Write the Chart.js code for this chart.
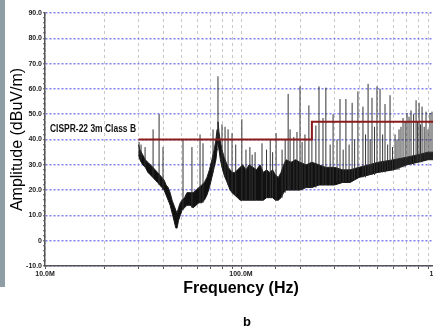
<!DOCTYPE html>
<html>
<head>
<meta charset="utf-8">
<script src="https://cdn.jsdelivr.net/npm/chart.js@4.4.0/dist/chart.umd.min.js"></script>
<style>
    html, body { margin: 0; padding: 0; background: #fff; }
    body { width: 433px; height: 329px; overflow: hidden; position: relative; font-family: "Liberation Sans", Arial, sans-serif; }
    #wrap { position: absolute; left: 0; top: 0; width: 450px; height: 329px; }
    #strip { position: absolute; left: 0; top: 0; width: 5px; height: 287px; background: #8f9ea5; z-index: 2; }
    #caption { position: absolute; left: 232px; top: 315px; width: 30px; text-align: center; font: bold 13px "Liberation Sans", Arial, sans-serif; line-height: 13px; color: #000; }
</style>
</head>
<body>
<div id="wrap"><canvas id="emiChart"></canvas></div>
<div id="strip"></div>
<div id="caption">b</div>
<script>
const FONT = '"Liberation Sans", Arial, sans-serif';

// axis ticks (MHz)
const xLabelValues = [10, 100, 1000];
const xLabelTexts = ['10.0M', '100.0M', '1.0G'];

// CISPR-22 class B limit, 3 m
const limitName = 'CISPR-22 3m Class B';
const limitFreq = [30, 230, 230, 1000];
const limitLevel = [40, 40, 47, 47];

// measured noise floor band (MHz, dBuV/m)
const bandFreq = [30, 30.5, 31.5, 32.5, 33.5, 34.5, 35.5, 36.5, 37.5, 38.5,
    39.5, 40.5, 41.5, 42.5, 43.5, 44.5, 45.5, 46.5, 47.2, 48,
    49, 50, 51.5, 53, 55, 57, 59, 61, 63, 65,
    67, 69, 71, 73, 74.5, 75.5, 76.3, 77.2, 78.5, 80,
    82, 84, 86, 88, 90, 93, 96, 99, 102, 106,
    110, 115, 120, 125, 130, 135, 140, 145, 150, 155,
    160, 165, 170, 180, 190, 200, 215, 230, 250, 270,
    300, 330, 360, 400, 450, 500, 600, 700, 800, 900, 1000];
const bandHigh = [38, 36, 34, 32, 31, 30, 29, 28, 27, 26,
    25, 24, 22, 21, 19, 16, 14, 12, 11, 13,
    15, 16, 17, 19, 19, 19, 20, 21, 22, 23,
    25, 28, 32, 36, 40, 44, 47, 43, 39, 36,
    33, 31, 29, 28, 27, 27, 28, 29, 30, 28,
    30, 29, 28, 30, 27, 28, 27, 28, 26, 25,
    27, 30, 32, 31, 32, 31, 30, 31, 30, 29,
    29, 28, 28, 29, 30, 31, 32, 33, 34, 35, 35];
const bandLow = [34, 32, 30, 29, 27, 26, 25, 24, 23, 22,
    21, 20, 18, 16, 14, 11, 8, 5, 5, 8,
    10, 12, 13, 14, 14, 13, 14, 15, 15, 16,
    18, 21, 25, 29, 32, 36, 39, 36, 32, 29,
    26, 24, 22, 20, 19, 18, 17, 16, 16, 16,
    16, 16, 16, 16, 16, 17, 17, 17, 16, 16,
    17, 19, 20, 20, 20, 20, 21, 21, 22, 22,
    22, 23, 23, 25, 26, 27, 28, 30, 31, 32, 32];

// narrowband spikes
const spikeFreq = [30.2, 30.9, 32.4, 35.6, 38.2, 40.0, 50.6, 56.2, 61.8, 64.0,
    72.0, 76.3, 80.0, 82.9, 85.9, 90.0, 94, 101, 106, 111,
    118, 128, 135, 141, 151, 162, 168, 174, 178, 186,
    193, 200, 212, 222, 230, 241, 250, 262, 271, 285,
    295, 309, 320, 332, 343, 356, 369, 395, 419, 445,
    466, 494, 512, 543, 576, 611, 640, 671, 703, 737,
    782, 810, 839, 879, 921, 943,
    380, 432, 456, 480, 528, 560, 593, 625, 655, 688,
    720, 760, 796, 824, 860, 900, 965, 114, 145, 205];
const spikeTop = [39, 38, 37, 44, 50, 37, 40, 37, 42, 38.5,
    44, 65, 46, 45, 44, 42.5, 38, 48, 36, 37,
    35, 38.5, 36, 40, 42.5, 36, 40, 58, 44, 41,
    43, 61, 42, 53.5, 41, 45.5, 61, 48.5, 60.5, 38,
    50, 40, 56, 36, 56, 38, 54.5, 59, 53, 62,
    56.5, 61, 60, 54, 57.5, 42, 44, 48.5, 50.5, 51.5,
    55.5, 54.5, 53, 51, 50.5, 51,
    40, 42, 40, 45, 42, 38, 37, 40, 45, 47,
    49, 50, 47, 46, 45, 44, 46, 34, 35, 39];
const spikeBase = [34, 32, 29, 25, 22, 20, 12, 13, 15, 15,
    27, 39, 29, 25, 22, 19, 18, 16, 16, 16,
    16, 16, 17, 17, 16, 17, 19, 20, 20, 20,
    20, 20, 21, 21, 21, 21, 22, 22, 22, 22,
    22, 23, 23, 23, 23, 23, 24, 25, 25, 26,
    26, 27, 27, 27, 28, 28, 28, 29, 30, 30,
    31, 31, 31, 32, 32, 32,
    24, 25, 26, 26, 27, 28, 28, 28, 29, 29,
    30, 30, 31, 31, 32, 32, 32, 16, 17, 20];

const spikePoints = [];
spikeFreq.forEach((f, i) => {
    spikePoints.push({ x: f, y: spikeBase[i] }, { x: f, y: spikeTop[i] }, { x: f, y: null });
});

const limitLabel = {
    id: 'limitLabel',
    afterDatasetsDraw(chart) {
        const { ctx, scales: { x, y } } = chart;
        ctx.save();
        ctx.font = 'bold 10px ' + FONT;
        ctx.fillStyle = '#111';
        ctx.textBaseline = 'alphabetic';
        ctx.fillText(limitName, x.getPixelForValue(xLabelValues[0]) + 5, y.getPixelForValue(limitLevel[0]) - 8, 86);
        ctx.restore();
    }
};

new Chart(document.getElementById('emiChart'), {
    type: 'line',
    data: {
        datasets: [
            {
                label: limitName,
                data: limitFreq.map((f, i) => ({ x: f, y: limitLevel[i] })),
                borderColor: '#8b1a1a',
                borderWidth: 2,
                pointRadius: 0,
                fill: false
            },
            {
                label: 'spikes',
                data: spikePoints,
                borderColor: '#333',
                borderWidth: 1,
                pointRadius: 0,
                spanGaps: false,
                fill: false
            },
            {
                label: 'upper',
                data: bandFreq.map((f, i) => ({ x: f, y: bandHigh[i] })),
                borderColor: '#222',
                backgroundColor: '#111',
                borderWidth: 1,
                pointRadius: 0,
                fill: '+1'
            },
            {
                label: 'lower',
                data: bandFreq.map((f, i) => ({ x: f, y: bandLow[i] })),
                borderColor: '#222',
                borderWidth: 1,
                pointRadius: 0,
                fill: false
            }
        ]
    },
    options: {
        animation: false,
        responsive: true,
        maintainAspectRatio: false,
        layout: { padding: { left: 0, top: 13, right: 13, bottom: 0 } },
        plugins: {
            legend: { display: false },
            tooltip: { enabled: false }
        },
        scales: {
            x: {
                type: 'logarithmic',
                min: 10,
                max: 1000,
                afterFit: s => { s.height = 63; },
                grid: { color: '#c8c8c8', lineWidth: 1, tickColor: '#555', tickLength: 3, tickWidth: 1 },
                border: { color: '#555', width: 1.5, dash: [3, 3] },
                ticks: {
                    autoSkip: false,
                    maxRotation: 0,
                    padding: 1,
                    color: '#222',
                    font: { size: 7, weight: 'bold', family: FONT },
                    callback: v => {
                        const i = xLabelValues.findIndex(t => Math.abs(t - v) < t * 1e-6);
                        return i < 0 ? '' : xLabelTexts[i];
                    }
                },
                title: {
                    display: true,
                    text: 'Frequency (Hz)',
                    color: '#000',
                    font: { size: 16, weight: 'bold', family: FONT },
                    padding: { top: 0, bottom: 31 }
                }
            },
            y: {
                min: -10,
                max: 90,
                afterFit: s => { s.width = 45; },
                grid: {
                    color: c => (c.tick && c.tick.value % 10 === 0) ? '#7f7ff2' : 'rgba(0,0,0,0)',
                    lineWidth: 1.5,
                    tickColor: '#555',
                    tickLength: 2,
                    tickWidth: 1
                },
                border: { color: '#555', width: 1.5, dash: [2, 2] },
                ticks: {
                    stepSize: 2,
                    autoSkip: false,
                    padding: 1,
                    color: '#222',
                    font: { size: 7, weight: 'bold', family: FONT },
                    callback: v => v % 10 === 0 ? (v === 0 ? '0' : v.toFixed(1)) : ''
                },
                title: {
                    display: true,
                    text: 'Amplitude (dBuV/m)',
                    color: '#000',
                    font: { size: 16, family: FONT },
                    padding: { top: 8, bottom: 0 }
                }
            }
        }
    },
    plugins: [limitLabel]
});
</script>
</body>
</html>
